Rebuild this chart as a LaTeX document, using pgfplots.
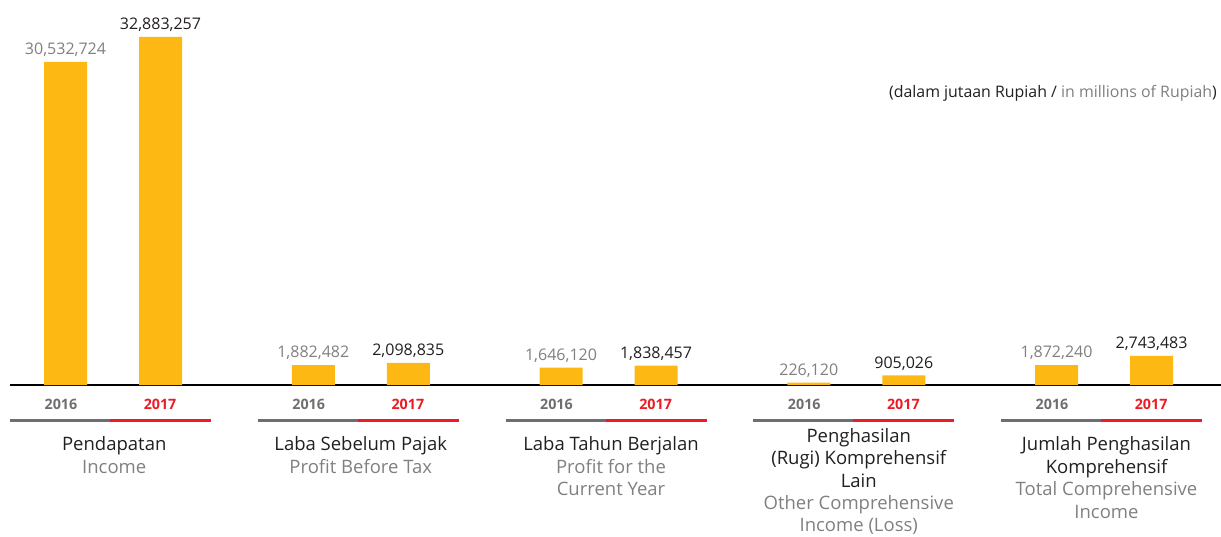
\documentclass[border=0pt]{standalone}
\usepackage{fontspec}
\setmainfont{Open Sans}
\usepackage{pgfplots}
\pgfplotsset{compat=1.18}
\definecolor{barcol}{RGB}{253,184,19}
\definecolor{valgray}{RGB}{128,128,128}
\definecolor{yeargray}{RGB}{110,110,113}
\definecolor{redc}{RGB}{237,28,36}
\definecolor{catgray}{RGB}{128,128,128}
\definecolor{txt}{RGB}{35,31,32}
\begin{document}
\begin{tikzpicture}
\begin{axis}[
  at={(10pt,151pt)}, anchor=south west,
  scale only axis, width=1211pt, height=385pt,
  xmin=-0.41574, xmax=4.47225, ymin=0, ymax=36379457,
  axis x line*=bottom, axis y line=none,
  x axis line style={black, line width=1.4pt},
  xtick=\empty, ytick=\empty,
  clip=false,
  ybar, bar width=43pt, bar shift=0pt,
  nodes near coords, point meta=explicit symbolic,
  every node near coord/.append style={font=\fontsize{16}{19}\selectfont, inner sep=0pt, yshift=5pt, anchor=south},
]
\addplot[fill=barcol, draw=none, every node near coord/.append style={text=valgray}] table[x=x, y=y, meta=lab] {
x y lab
-0.19173 30532724 30,532,724
0.80827 1882482 1,882,482
1.80827 1646120 1,646,120
2.80827 226120 226,120
3.80827 1872240 1,872,240
};
\addplot[fill=barcol, draw=none, every node near coord/.append style={text=txt}] table[x=x, y=y, meta=lab] {
x y lab
0.19173 32883257 32,883,257
1.19173 2098835 2,098,835
2.19173 1838457 1,838,457
3.19173 905026 905,026
4.19173 2743483 2,743,483
};
% year labels and underlines
\tikzset{yr/.style={font=\fontsize{14.3}{16}\selectfont\bfseries, inner sep=0pt, anchor=center}}
\node[yr, text=yeargray] at ([yshift=-19pt]axis cs:-0.21,0) {2016};
\node[yr, text=redc] at ([yshift=-19pt]axis cs:0.19,0) {2017};
\node[yr, text=yeargray] at ([yshift=-19pt]axis cs:0.79,0) {2016};
\node[yr, text=redc] at ([yshift=-19pt]axis cs:1.19,0) {2017};
\node[yr, text=yeargray] at ([yshift=-19pt]axis cs:1.79,0) {2016};
\node[yr, text=redc] at ([yshift=-19pt]axis cs:2.19,0) {2017};
\node[yr, text=yeargray] at ([yshift=-19pt]axis cs:2.79,0) {2016};
\node[yr, text=redc] at ([yshift=-19pt]axis cs:3.19,0) {2017};
\node[yr, text=yeargray] at ([yshift=-19pt]axis cs:3.79,0) {2016};
\node[yr, text=redc] at ([yshift=-19pt]axis cs:4.19,0) {2017};
\draw[yeargray, line width=2.8pt] ([yshift=-35.5pt]axis cs:-0.4157,0) -- ([yshift=-35.5pt]axis cs:-0.0121,0);
\draw[redc, line width=2.8pt] ([yshift=-35.5pt]axis cs:-0.0121,0) -- ([yshift=-35.5pt]axis cs:0.3956,0);
\draw[yeargray, line width=2.8pt] ([yshift=-35.5pt]axis cs:0.5843,0) -- ([yshift=-35.5pt]axis cs:0.9879,0);
\draw[redc, line width=2.8pt] ([yshift=-35.5pt]axis cs:0.9879,0) -- ([yshift=-35.5pt]axis cs:1.3956,0);
\draw[yeargray, line width=2.8pt] ([yshift=-35.5pt]axis cs:1.5843,0) -- ([yshift=-35.5pt]axis cs:1.9879,0);
\draw[redc, line width=2.8pt] ([yshift=-35.5pt]axis cs:1.9879,0) -- ([yshift=-35.5pt]axis cs:2.3956,0);
\draw[yeargray, line width=2.8pt] ([yshift=-35.5pt]axis cs:2.5843,0) -- ([yshift=-35.5pt]axis cs:2.9879,0);
\draw[redc, line width=2.8pt] ([yshift=-35.5pt]axis cs:2.9879,0) -- ([yshift=-35.5pt]axis cs:3.3956,0);
\draw[yeargray, line width=2.8pt] ([yshift=-35.5pt]axis cs:3.5843,0) -- ([yshift=-35.5pt]axis cs:3.9879,0);
\draw[redc, line width=2.8pt] ([yshift=-35.5pt]axis cs:3.9879,0) -- ([yshift=-35.5pt]axis cs:4.3956,0);
% category labels
\tikzset{cat/.style={font=\fontsize{18.5}{22.8}\selectfont, align=center, inner sep=0pt, anchor=north, text=txt}}
\node[cat] at ([yshift=-51pt]axis cs:0.005,0) {Pendapatan\\{\color{catgray}Income}};
\node[cat] at ([yshift=-51pt]axis cs:1.0,0) {Laba Sebelum Pajak\\{\color{catgray}Profit Before Tax}};
\node[cat] at ([yshift=-51pt]axis cs:2.01,0) {Laba Tahun Berjalan\\{\color{catgray}Profit for the}\\{\color{catgray}Current Year}};
\node[cat, font=\fontsize{18.5}{22.4}\selectfont] at ([yshift=-43pt]axis cs:3.01,0) {Penghasilan\\(Rugi) Komprehensif\\Lain\\{\color{catgray}Other Comprehensive}\\{\color{catgray}Income (Loss)}};
\node[cat] at ([yshift=-51pt]axis cs:4.01,0) {Jumlah Penghasilan\\Komprehensif\\{\color{catgray}Total Comprehensive}\\{\color{catgray}Income}};
\node[font=\fontsize{15.9}{19}\selectfont, anchor=base east, inner sep=0pt, text=txt] at ([xshift=-4pt, yshift=-97.5pt]rel axis cs:1,1) {(dalam jutaan Rupiah / {\color{catgray}in millions of Rupiah})};
\end{axis}
\pgfresetboundingbox
\useasboundingbox (0,0) rectangle (1221pt,536pt);
\end{tikzpicture}
\end{document}
